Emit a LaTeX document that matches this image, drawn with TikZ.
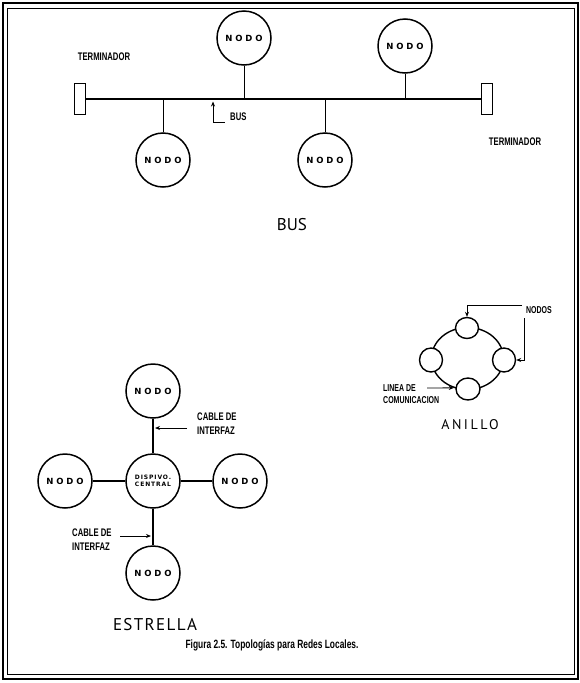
\documentclass[tikz,border=0pt]{standalone}
\usepackage{fontspec}
\setmainfont{Liberation Sans}
\newfontfamily\lblfont{Liberation Sans}[FakeStretch=0.7]
\newfontfamily\nodofont{DejaVu Sans}[LetterSpace=33]
\newfontfamily\cenfont{DejaVu Sans}[LetterSpace=15]
\newfontfamily\titfont{PT Sans}
\usetikzlibrary{arrows.meta,shapes.geometric}
\begin{document}
\begin{tikzpicture}[>={Stealth[length=5pt,width=4pt]}, x=1pt, y=-1pt,
  nodo/.style={draw, circle, line width=1.5pt, minimum size=54pt, inner sep=0pt,
    font=\nodofont\bfseries\fontsize{8.5}{8.5}\selectfont},
  term/.style={draw, rectangle, line width=0.9pt, minimum width=11pt, minimum height=31pt, inner sep=0pt},
  anodo/.style={draw, ellipse, fill=white, line width=1.4pt, minimum width=23pt, minimum height=21pt, inner sep=0pt},
  lbl/.style={font=\lblfont\bfseries\fontsize{11}{14}\selectfont, align=left, inner sep=0pt},
  titulo/.style={font=\titfont\fontsize{17}{17}\selectfont, inner sep=0pt}]
\useasboundingbox (0,0) rectangle (580,683);
% marco
\draw[line width=1.6pt] (3,3) rectangle (578,679);
\draw[line width=1pt] (7,8) rectangle (574,674);

% bus
\node[term] (tl) at (80,99) {};
\node[term] (tr) at (487,99) {};
\draw[line width=2.8pt] (tl.east) -- (tr.west);
\node[nodo] (b1) at (163,160) {NODO};
\node[nodo] (b2) at (244,38) {NODO};
\node[nodo] (b3) at (325,160) {NODO};
\node[nodo] (b4) at (405,46) {NODO};
\draw[line width=1pt] (b1) -- (b1 |- tl);
\draw[line width=1pt] (b2) -- (b2 |- tl);
\draw[line width=1pt] (b3) -- (b3 |- tl);
\draw[line width=1pt] (b4) -- (b4 |- tl);
\node[lbl] (t1) at (104,57) {TERMINADOR};
\node[lbl] (t2) at (515,142) {TERMINADOR};
\node[lbl, anchor=west] (lb) at (230,117) {BUS};
\coordinate (bk) at (213,122);
\draw[->, line width=1pt] (bk) -- (213,101.5);
\draw[line width=1pt] (bk) -- (225,122);
\node[titulo] (tbus) at (292,225) {BUS};

% anillo
\node[draw, ellipse, line width=1.4pt, minimum width=72pt, minimum height=62pt, inner sep=0pt] (ring) at (467.5,358.5) {};
\node[anodo] (r1) at (467,328) {};
\node[anodo, minimum height=24pt] (r2) at (431,360) {};
\node[anodo, minimum height=24pt] (r3) at (504,360) {};
\node[anodo, minimum width=24pt, minimum height=22pt] (r4) at (468,389) {};
\node[lbl, font=\lblfont\bfseries\fontsize{10}{12}\selectfont] (ln) at (539,310) {NODOS};
\coordinate (q1) at (522,305);
\coordinate (q2) at (524,318);
\draw[->, line width=0.7pt] (q1) -- (q1 -| r1) -- (r1.north);
\draw[->, line width=0.7pt] (q2) -- (q2 |- r3) -- (r3.east);
\node[lbl, anchor=west, font=\lblfont\bfseries\fontsize{10}{12}\selectfont] (ll) at (383,394) {LINEA DE\\COMUNICACION};
\coordinate (q3) at (427,388);
\draw[->, line width=0.9pt] (q3) -- (ring.245);
\node[titulo, font=\titfont\addfontfeature{LetterSpace=18}\fontsize{14}{14}\selectfont] (tani) at (470,425) {ANILLO};

% estrella
\node[nodo, font=\cenfont\bfseries\fontsize{6}{6.5}\selectfont, align=center] (e0) at (153,481) {DISPIVO.\\CENTRAL};
\node[nodo] (e1) at (153,391) {NODO};
\node[nodo] (e2) at (65,481) {NODO};
\node[nodo] (e3) at (240,481) {NODO};
\node[nodo] (e4) at (153,573) {NODO};
\draw[line width=1.2pt] (e0) -- (e1);
\draw[line width=1.2pt] (e0) -- (e2);
\draw[line width=1.2pt] (e0) -- (e3);
\draw[line width=1.2pt] (e0) -- (e4);
\node[lbl, anchor=west] (c1) at (197,424) {CABLE DE\\INTERFAZ};
\node[lbl, anchor=west] (c2) at (72,539.5) {CABLE DE\\INTERFAZ};
\coordinate (k1) at (187,428);
\coordinate (k2) at (120,536);
\draw[->, line width=1pt, shorten >=2pt] (k1) -- (k1 -| e0);
\draw[->, line width=1pt, shorten >=2pt] (k2) -- (k2 -| e0);
\node[titulo, font=\titfont\addfontfeature{LetterSpace=8}\fontsize{17}{17}\selectfont] (test) at (155,625) {ESTRELLA};

% pie
\node[lbl, font=\lblfont\bfseries\fontsize{12}{12}\selectfont] (pie) at (272,645) {Figura 2.5. Topologías para Redes Locales.};
\end{tikzpicture}
\end{document}
